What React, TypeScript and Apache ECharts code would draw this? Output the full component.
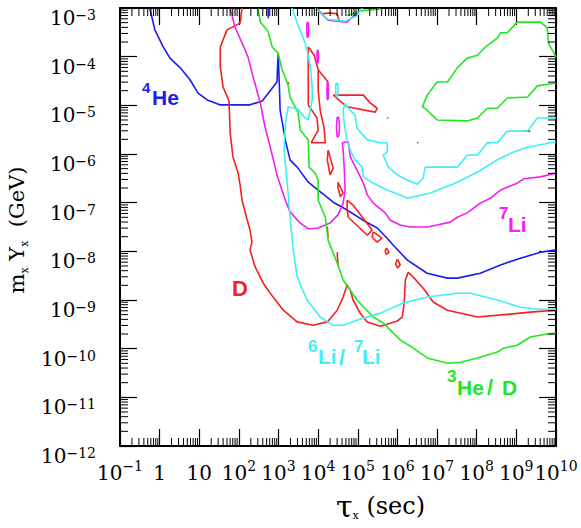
import React, { useEffect, useRef } from 'react';
import * as echarts from 'echarts';

// Axis ranges in decades: x = log10(tau_x / sec), y = log10(m_x Y_x / GeV)
const X_MIN = -1;
const X_MAX = 10;
const Y_MIN = -12;
const Y_MAX = -3;

const BLUE = '#1c1cf0';
const RED = '#f52020';
const MAGENTA = '#f020f0';
const CYAN = '#3ef0f5';
const GREEN = '#22e622';

// ---- contour data, [log10 tau, log10 mY] ----
const he4Main = [[-0.25,-3.0],[-0.12,-3.45],[0.09,-3.80],[0.26,-4.03],[0.52,-4.23],[0.77,-4.48],[0.97,-4.75],[1.20,-4.89],[1.52,-4.99],[2.02,-4.99],[2.28,-4.99],[2.59,-4.91],[2.96,-4.52],[2.99,-3.93],[3.02,-4.58],[3.04,-5.10],[3.17,-5.71],[3.29,-6.12],[3.47,-6.27],[3.75,-6.58],[4.00,-6.74],[4.38,-6.99],[4.73,-7.15],[5.13,-7.36],[5.49,-7.52],[5.74,-7.73],[5.89,-7.87],[6.25,-8.18],[6.75,-8.45],[7.26,-8.55],[7.51,-8.55],[8.09,-8.45],[8.60,-8.28],[9.10,-8.14],[9.61,-8.02],[10.0,-7.97]];
const he4Top = [[2.74,-3.0],[2.74,-3.21]];

const dMain = [[2.08,-3.0],[2.03,-3.31],[1.70,-3.45],[1.53,-3.80],[1.53,-4.21],[1.60,-4.62],[1.75,-4.91],[1.78,-5.57],[1.85,-6.06],[1.98,-6.39],[2.03,-6.64],[2.08,-6.95],[2.21,-7.36],[2.28,-7.56],[2.33,-7.81],[2.28,-7.97],[2.41,-8.32],[2.61,-8.65],[2.79,-8.86],[3.12,-9.21],[3.47,-9.45],[3.87,-9.52],[4.23,-9.45],[4.48,-9.21],[4.63,-8.94],[4.73,-8.69],[4.81,-8.80],[4.88,-9.00],[5.06,-9.27],[5.24,-9.45],[5.57,-9.54],[6.00,-9.43],[6.12,-9.35],[6.17,-9.06],[6.20,-8.59],[6.27,-8.43],[6.40,-8.53],[6.65,-8.76],[6.90,-9.04],[7.26,-9.21],[8.02,-9.35],[8.85,-9.29],[9.35,-9.25],[10.0,-9.21]];
const dTop = [[3.95,-3.0],[4.10,-3.12],[4.30,-3.10],[4.48,-3.12],[4.53,-3.27]];
const dLoopA = [[3.75,-3.80],[3.75,-4.99],[3.97,-5.26],[4.00,-5.51],[3.82,-5.77],[4.18,-5.77],[4.15,-5.47],[4.05,-5.10],[4.00,-4.69],[4.00,-4.27],[3.90,-3.97],[3.75,-3.80]];
const dBranchA = [[4.00,-4.27],[4.25,-4.52]];
const dLoopB = [[4.38,-4.79],[5.14,-4.79],[5.31,-4.95],[5.49,-5.06],[5.44,-5.14],[4.73,-5.03],[4.38,-4.79]];
const dLoopC = [[4.25,-5.92],[4.38,-6.29],[4.30,-6.43],[4.23,-6.12],[4.25,-5.92]];
const dLoopD = [[4.50,-6.58],[4.63,-6.80],[4.56,-6.88],[4.50,-6.70],[4.50,-6.58]];
const dLoopE = [[4.73,-6.95],[4.88,-7.05],[5.36,-7.56],[5.24,-7.67],[4.76,-7.30],[4.73,-7.15],[4.73,-6.95]];
const dLoopF = [[5.39,-7.60],[5.61,-7.73],[5.49,-7.81],[5.36,-7.71],[5.39,-7.60]];
const dLoopG = [[5.72,-7.93],[5.79,-8.02],[5.72,-8.06],[5.69,-8.00],[5.72,-7.93]];
const dLoopH = [[6.00,-8.16],[6.07,-8.28],[6.00,-8.34],[5.95,-8.26],[6.00,-8.16]];
const dBitI = [[4.23,-7.50],[4.25,-7.73]];
const dBitJ = [[4.48,-8.02],[4.50,-8.28]];
const dDots = [
  [[3.24,-4.53],[3.26,-4.56]],
  [[5.74,-5.25],[5.77,-5.27]],
  [[6.50,-5.76],[6.52,-5.78]],
  [[8.27,-5.76],[8.30,-5.78]],
  [[9.18,-5.53],[9.35,-5.53]],
];

const li7Main = [[1.78,-3.0],[1.90,-3.39],[2.08,-3.72],[2.23,-4.01],[2.36,-4.42],[2.54,-4.95],[2.66,-5.45],[2.81,-5.92],[2.96,-6.43],[3.17,-6.95],[3.29,-7.19],[3.55,-7.42],[3.75,-7.54],[4.00,-7.52],[4.30,-7.42],[4.50,-7.25],[4.63,-7.01],[4.68,-6.74],[4.66,-6.33],[4.63,-5.92],[4.61,-5.77],[4.76,-5.75],[4.81,-6.06],[4.98,-6.33],[5.14,-6.60],[5.24,-6.84],[5.39,-7.01],[5.69,-7.21],[5.82,-7.36],[6.07,-7.46],[6.32,-7.50],[6.75,-7.50],[7.00,-7.46],[7.33,-7.40],[7.51,-7.30],[7.76,-7.21],[8.09,-7.01],[8.34,-6.91],[8.60,-6.74],[9.02,-6.60],[9.18,-6.51],[9.61,-6.47],[10.0,-6.39]];
const li7Top = [[4.03,-3.08],[4.25,-3.25],[4.73,-3.29],[4.98,-3.10]];
const li7LoopA = [[3.72,-3.29],[3.75,-3.31],[3.76,-3.45],[3.75,-3.59],[3.72,-3.60],[3.71,-3.45],[3.72,-3.29]];
const li7LoopB = [[3.98,-3.86],[4.00,-3.88],[4.01,-4.00],[4.00,-4.12],[3.98,-4.13],[3.97,-4.00],[3.98,-3.86]];
const li7LoopC = [[4.23,-4.52],[4.25,-4.54],[4.26,-4.70],[4.25,-4.87],[4.23,-4.89],[4.22,-4.70],[4.23,-4.52]];
const li7LoopD = [[4.48,-5.24],[4.52,-5.26],[4.54,-5.45],[4.52,-5.63],[4.48,-5.65],[4.46,-5.45],[4.48,-5.24]];

const he3dMain = [[2.48,-3.0],[2.54,-3.29],[2.74,-3.49],[2.84,-3.80],[2.99,-3.93],[3.09,-4.27],[3.24,-4.58],[3.29,-4.83],[3.42,-5.03],[3.49,-5.14],[3.55,-5.51],[3.75,-5.71],[3.77,-6.27],[3.92,-6.39],[4.00,-6.54],[4.00,-6.95],[4.18,-7.30],[4.25,-7.77],[4.48,-8.24],[4.63,-8.59],[4.98,-9.00],[5.39,-9.35],[5.64,-9.47],[5.82,-9.62],[6.07,-9.82],[6.40,-9.99],[6.75,-10.19],[7.26,-10.30],[7.59,-10.28],[8.02,-10.19],[8.52,-10.07],[8.67,-9.99],[9.02,-9.93],[9.35,-9.76],[9.78,-9.70],[10.0,-9.68]];
const he3dLoop = [[10.0,-4.54],[9.53,-4.60],[9.28,-4.83],[8.77,-4.85],[8.52,-5.06],[8.27,-5.06],[8.02,-5.26],[7.76,-5.32],[7.00,-5.30],[6.75,-5.10],[6.63,-5.03],[6.75,-4.79],[7.00,-4.52],[7.26,-4.52],[7.51,-4.23],[7.76,-4.03],[8.02,-3.97],[8.22,-3.80],[8.52,-3.62],[8.60,-3.51],[8.77,-3.51],[9.02,-3.29],[9.61,-3.29],[9.78,-3.41],[9.81,-3.72],[10.0,-4.01]];
const he3dTop = [[4.73,-3.16],[5.06,-3.06],[5.57,-3.02]];

const li6Main = [[3.34,-3.0],[3.47,-3.31],[3.62,-3.60],[3.72,-3.86],[3.80,-4.21],[3.85,-4.62],[3.85,-4.89],[3.75,-5.30],[3.67,-5.26],[3.49,-5.08],[3.24,-5.03],[3.17,-5.40],[3.14,-5.92],[3.22,-6.60],[3.29,-7.30],[3.37,-7.97],[3.47,-8.53],[3.72,-9.00],[4.05,-9.35],[4.38,-9.52],[4.63,-9.52],[5.14,-9.37],[5.57,-9.27],[6.15,-9.06],[6.75,-8.94],[7.51,-8.86],[7.84,-8.86],[8.52,-9.00],[9.10,-9.15],[9.53,-9.19],[10.0,-9.19]];
const li6Spike = [[10.0,-5.26],[9.53,-5.26],[9.28,-5.53],[8.77,-5.53],[8.52,-5.77],[8.27,-5.77],[8.02,-6.02],[7.76,-6.02],[7.51,-6.27],[6.70,-6.27],[6.65,-6.49],[6.50,-6.62],[6.25,-6.54],[6.00,-6.43],[5.77,-6.27],[5.64,-6.02],[5.74,-5.96],[5.74,-5.77],[5.57,-5.77],[5.24,-5.71],[4.98,-5.47],[4.93,-5.20],[4.81,-5.10],[4.68,-4.97],[4.63,-5.10],[4.66,-5.40],[4.73,-5.71],[4.81,-5.92],[4.93,-6.12],[5.11,-6.27],[5.14,-6.47],[5.39,-6.60],[5.74,-6.74],[6.07,-6.84],[6.25,-6.91],[6.83,-6.80],[7.51,-6.58],[8.02,-6.37],[8.52,-6.12],[8.93,-5.96],[9.28,-5.86],[10.0,-5.75]];
const li6Top = [[3.93,-3.0],[4.23,-3.23],[4.68,-3.27],[4.98,-3.16],[5.11,-3.0]];
const li6LoopA = [[4.45,-4.54],[4.49,-4.55],[4.50,-4.68],[4.49,-4.82],[4.45,-4.83],[4.44,-4.68],[4.45,-4.54]];

const curves = [
  { color: BLUE, pts: he4Main }, { color: BLUE, pts: he4Top },
  { color: RED, pts: dMain }, { color: RED, pts: dTop }, { color: RED, pts: dLoopA }, { color: RED, pts: dBranchA },
  { color: RED, pts: dLoopB }, { color: RED, pts: dLoopC }, { color: RED, pts: dLoopD }, { color: RED, pts: dLoopE },
  { color: RED, pts: dLoopF }, { color: RED, pts: dLoopG }, { color: RED, pts: dLoopH }, { color: RED, pts: dBitI }, { color: RED, pts: dBitJ },
  ...dDots.map((p) => ({ color: RED, pts: p })),
  { color: MAGENTA, pts: li7Main }, { color: MAGENTA, pts: li7Top }, { color: MAGENTA, pts: li7LoopA },
  { color: MAGENTA, pts: li7LoopB }, { color: MAGENTA, pts: li7LoopC }, { color: MAGENTA, pts: li7LoopD },
  { color: GREEN, pts: he3dMain }, { color: GREEN, pts: he3dLoop }, { color: GREEN, pts: he3dTop },
  { color: CYAN, pts: li6Main }, { color: CYAN, pts: li6Spike }, { color: CYAN, pts: li6Top }, { color: CYAN, pts: li6LoopA },
];

// minor (2..9 x 10^n) tick positions, in decades
const X_MINOR: number[] = [];
for (let n = X_MIN; n < X_MAX; n++) for (let k = 2; k <= 9; k++) X_MINOR.push(n + Math.log10(k));
const Y_MINOR: number[] = [];
for (let n = Y_MIN; n < Y_MAX; n++) for (let k = 2; k <= 9; k++) Y_MINOR.push(n + Math.log10(k));

const SERIF = '"DejaVu Serif", serif';
const SANS = '"Liberation Sans", Arial, sans-serif';

function xLabel(v: number) {
  const n = Math.round(v);
  if (n === 0) return '{a|1}';
  if (n === 1) return '{a|10}';
  if (n < 0) return `{a|10}{b|\u2212${-n}}`;
  return `{a|10}{b|${n}}`;
}
function yLabel(v: number) {
  const n = Math.round(v);
  return `{a|10}{b|\u2212${-n}}`;
}

function lbl(text: string, x: number, y: number, size: number, color: string) {
  return {
    type: 'text', x, y, silent: true, z: 100,
    style: { text, fill: color, font: `bold ${size}px ${SANS}`, align: 'left', verticalAlign: 'middle' },
  };
}

export default function App() {
  const ref = useRef<HTMLDivElement>(null);
  useEffect(() => {
    if (!ref.current) return;
    const chart = echarts.init(ref.current, undefined, { renderer: 'svg' });
    const tickAxisCommon = {
      type: 'value',
      axisLine: { show: true, onZero: false, lineStyle: { color: '#000', width: 2 } },
      axisTick: { show: true, inside: true, length: 17, lineStyle: { color: '#000', width: 1.2 } },
      splitLine: { show: false },
      interval: 1,
    };
    const option: any = {
      animation: false,
      backgroundColor: '#fff',
      grid: { left: 120, right: 25, top: 8, bottom: 82, outerBoundsMode: 'none', containLabel: false },
      xAxis: [
        {
          ...tickAxisCommon, min: X_MIN, max: X_MAX, position: 'bottom',
          axisLabel: {
            show: true, margin: 13, formatter: xLabel, showMinLabel: true, showMaxLabel: true, hideOverlap: false,
            rich: {
              a: { fontSize: 20, fontFamily: SERIF, color: '#000', lineHeight: 24, verticalAlign: 'bottom' },
              b: { fontSize: 14, fontFamily: SERIF, color: '#000', lineHeight: 12, verticalAlign: 'top' },
            },
          },
        },
        { ...tickAxisCommon, min: X_MIN, max: X_MAX, position: 'top', axisLabel: { show: false } },
      ],
      yAxis: [
        {
          ...tickAxisCommon, min: Y_MIN, max: Y_MAX, position: 'left',
          axisLabel: {
            show: true, margin: 24, formatter: yLabel, showMinLabel: true, showMaxLabel: true, hideOverlap: false,
            verticalAlign: 'top',
            rich: {
              a: { fontSize: 20, fontFamily: SERIF, color: '#000', lineHeight: 8, verticalAlign: 'top' },
              b: { fontSize: 14, fontFamily: SERIF, color: '#000', lineHeight: 2, verticalAlign: 'top' },
            },
          },
        },
        { ...tickAxisCommon, min: Y_MIN, max: Y_MAX, position: 'right', axisLabel: { show: false } },
      ],
      series: [
        ...curves.map((c) => ({
          type: 'line', data: c.pts, symbol: 'none', showSymbol: false, silent: true, clip: true,
          lineStyle: { color: c.color, width: 1.6 }, itemStyle: { color: c.color }, z: 3,
        })),
        {
          type: 'custom', silent: true, z: 5, clip: false,
          data: [...X_MINOR.map((v) => [v, 0]), ...Y_MINOR.map((v) => [v, 1])],
          renderItem: (_p: any, api: any) => {
            const v = api.value(0);
            const t = api.value(1);
            const st = { stroke: '#000', lineWidth: 1 };
            if (t === 0) {
              const b = api.coord([v, Y_MIN]);
              const tp = api.coord([v, Y_MAX]);
              return {
                type: 'group', children: [
                  { type: 'line', shape: { x1: b[0], y1: b[1], x2: b[0], y2: b[1] - 8 }, style: st },
                  { type: 'line', shape: { x1: tp[0], y1: tp[1], x2: tp[0], y2: tp[1] + 8 }, style: st },
                ],
              };
            }
            const l = api.coord([X_MIN, v]);
            const r = api.coord([X_MAX, v]);
            return {
              type: 'group', children: [
                { type: 'line', shape: { x1: l[0], y1: l[1], x2: l[0] + 8, y2: l[1] }, style: st },
                { type: 'line', shape: { x1: r[0], y1: r[1], x2: r[0] - 8, y2: r[1] }, style: st },
              ],
            };
          },
        },
      ],
      graphic: [
        lbl('4', 142, 87, 15, BLUE), lbl('He', 152, 97.5, 21, BLUE),
        lbl('D', 232, 288.5, 22, RED),
        lbl('7', 499, 213, 17, MAGENTA), lbl('Li', 508, 224.5, 21, MAGENTA),
        lbl('6', 308, 346.5, 17, CYAN), lbl('Li', 318, 356.5, 21, CYAN), lbl('/', 339, 357.5, 22, CYAN),
        lbl('7', 354, 346.5, 17, CYAN), lbl('Li', 362, 356.5, 21, CYAN),
        lbl('3', 447, 376.5, 17, GREEN), lbl('He', 457, 387, 21, GREEN), lbl('/', 487, 387, 22, GREEN), lbl('D', 502, 387.5, 21, GREEN),
        {
          type: 'text', x: 336, y: 506, silent: true,
          style: {
            text: '{t|\u03c4}{s|x}{p| (sec)}', align: 'left', verticalAlign: 'middle',
            rich: {
              t: { fontSize: 30, fontFamily: SERIF, fill: '#000', color: '#000', lineHeight: 30, verticalAlign: 'middle' },
              s: { fontSize: 11, fontFamily: SERIF, fill: '#000', color: '#000', lineHeight: 10, verticalAlign: 'bottom' },
              p: { fontSize: 24, fontFamily: SERIF, fill: '#000', color: '#000', lineHeight: 30, verticalAlign: 'middle' },
            },
          },
        },
        {
          type: 'text', x: 17, y: 230, rotation: Math.PI / 2, silent: true,
          style: {
            text: '{m|m}{s|x}{m| Y}{s|x}{m|  (GeV)}', align: 'center', verticalAlign: 'middle',
            rich: {
              m: { fontSize: 21, fontFamily: SERIF, fill: '#000', color: '#000', lineHeight: 26, verticalAlign: 'middle' },
              s: { fontSize: 11, fontFamily: SERIF, fill: '#000', color: '#000', lineHeight: 10, verticalAlign: 'bottom' },
            },
          },
        },
      ],
    };
    chart.setOption(option);
    return () => chart.dispose();
  }, []);
  return <div ref={ref} style={{ position: 'absolute', left: 0, top: 0, width: 581, height: 528, background: '#fff' }} />;
}
